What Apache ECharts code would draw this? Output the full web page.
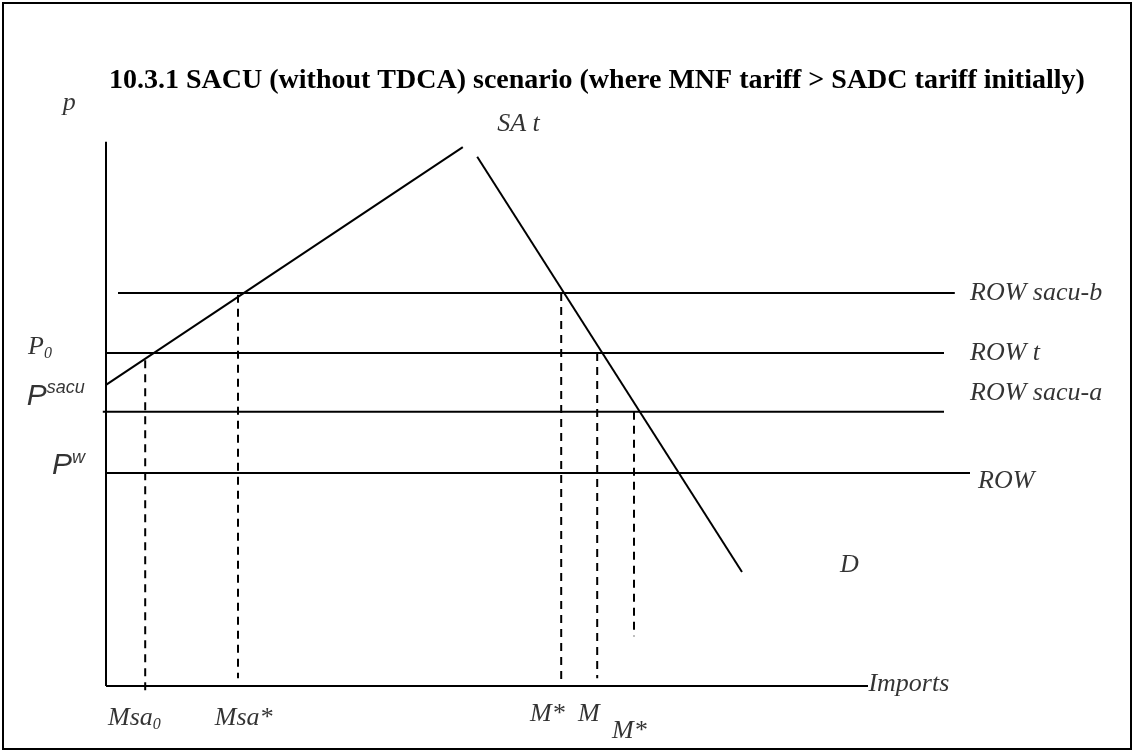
<!DOCTYPE html>
<html><head><meta charset="utf-8">
<script src="https://cdn.jsdelivr.net/npm/echarts@6/dist/echarts.min.js"></script>
<style>html,body{margin:0;padding:0;background:#fff}#c{width:1135px;height:753px}</style>
</head><body><div id="c"></div>
<script>
// ---- diagram data (quantity of imports on x, price on y, arbitrary units) ----
const titleText = '10.3.1 SACU (without TDCA) scenario (where MNF tariff > SADC tariff initially)';
const axisQMax = 95.25;          // end of the Imports axis
const axisPMax = 90.7;           // top of the price axis
const supplyQ = [0, 44.6];       // SA t supply curve
const supplyP = [50.2, 89.8];
const demandQ = [46.4, 79.5];    // D demand curve
const demandP = [88.2, 19.0];
const priceNames = ['ROW sacu-b', 'ROW t', 'ROW sacu-a', 'ROW'];
const priceLevels = [65.5, 55.5, 45.7, 35.5];
const priceFrom = [1.5, 0, -0.4, 0];
const priceTo = [106.1, 104.75, 104.75, 108];
const qtyNames = ['Msa0', 'Msa*', 'M*', 'M', 'M*'];
const qtyValues = [4.9, 16.5, 56.9, 61.4, 66.0];
const qtyTop = [54.3, 65.2, 65.5, 55.5, 45.7];
const qtyBottom = [-1.3, 1.3, 0, 1.3, 8.3];
// annotation texts and their anchor points (diagram units)
const noteText = ['p', 'SA t', 'ROW sacu-b', 'ROW t', 'ROW sacu-a', 'ROW', 'D', 'Imports',
  '{i|P}{s|0}', '{a|P}{sup|sacu}', '{a|P}{sup|w}', '{i|Msa}{s|0}', 'Msa*', 'M*', 'M', 'M*'];
const noteQ = [-5.4, 48.9, 108, 108, 108, 109, 91.75, 95.3, -9.75, -9.9, -6.75, 0.25, 13.6, 53, 59, 63.25];
const noteP = [97.2, 93.6, 65.5, 55.5, 48.8, 34.2, 20.2, 0.3, 56.5, 48.3, 36.7, -5.3, -5.3, -4.7, -4.7, -7.5];

const serif = '"Liberation Serif", "Times New Roman", serif';
const sans = '"Liberation Sans", Arial, sans-serif';
const black = '#000';

const series = [];
function seg(name, pts, dashed) {
  series.push({
    name, type: 'line', data: pts, symbol: 'none', silent: true,
    lineStyle: { color: black, width: 2, type: dashed ? [8, 6] : 'solid' },
    animation: false
  });
}
seg('price axis', [[0, 0], [0, axisPMax]]);
seg('imports axis', [[0, 0], [axisQMax, 0]]);
seg('SA t', [[supplyQ[0], supplyP[0]], [supplyQ[1], supplyP[1]]]);
seg('D', [[demandQ[0], demandP[0]], [demandQ[1], demandP[1]]]);
priceNames.forEach((n, i) => seg(n, [[priceFrom[i], priceLevels[i]], [priceTo[i], priceLevels[i]]]));
qtyNames.forEach((n, i) => seg(n, [[qtyValues[i], qtyTop[i]], [qtyValues[i], qtyBottom[i]]], true));

series.push({
  type: 'scatter', symbolSize: 0, silent: true, animation: false,
  data: noteText.map((t, i) => ({ value: [noteQ[i], noteP[i]], name: t })),
  label: {
    show: true, position: 'right', distance: 0,
    formatter: p => p.name,
    fontFamily: serif, fontStyle: 'italic', fontSize: 26, color: black,
    rich: {
      i: { fontFamily: serif, fontStyle: 'italic', fontSize: 26, color: black, lineHeight: 30 },
      s: { fontFamily: serif, fontStyle: 'italic', fontSize: 16, color: black, lineHeight: 30, verticalAlign: 'bottom', padding: [12, 0, 0, 0] },
      a: { fontFamily: sans, fontStyle: 'italic', fontSize: 30, color: black, lineHeight: 34 },
      sup: { fontFamily: sans, fontStyle: 'italic', fontSize: 18, color: black, lineHeight: 34, verticalAlign: 'top', padding: [0, 0, 12, 0] }
    }
  }
});

const chart = echarts.init(document.getElementById('c'), null, { renderer: 'canvas' });
chart.setOption({
  backgroundColor: '#fff',
  animation: false,
  title: {
    text: titleText, left: 104, top: 62,
    textStyle: { fontFamily: serif, fontWeight: 'bold', fontSize: 28, color: black }
  },
  grid: { left: 10, right: 29, top: 26, bottom: 7, containLabel: false },
  xAxis: { type: 'value', min: -12, max: 125, show: false },
  yAxis: { type: 'value', min: -10, max: 110, show: false },
  graphic: [{
    type: 'rect', shape: { x: 3, y: 3, width: 1128, height: 746 },
    style: { fill: null, stroke: black, lineWidth: 2 }, silent: true
  }],
  series
});
</script></body></html>
